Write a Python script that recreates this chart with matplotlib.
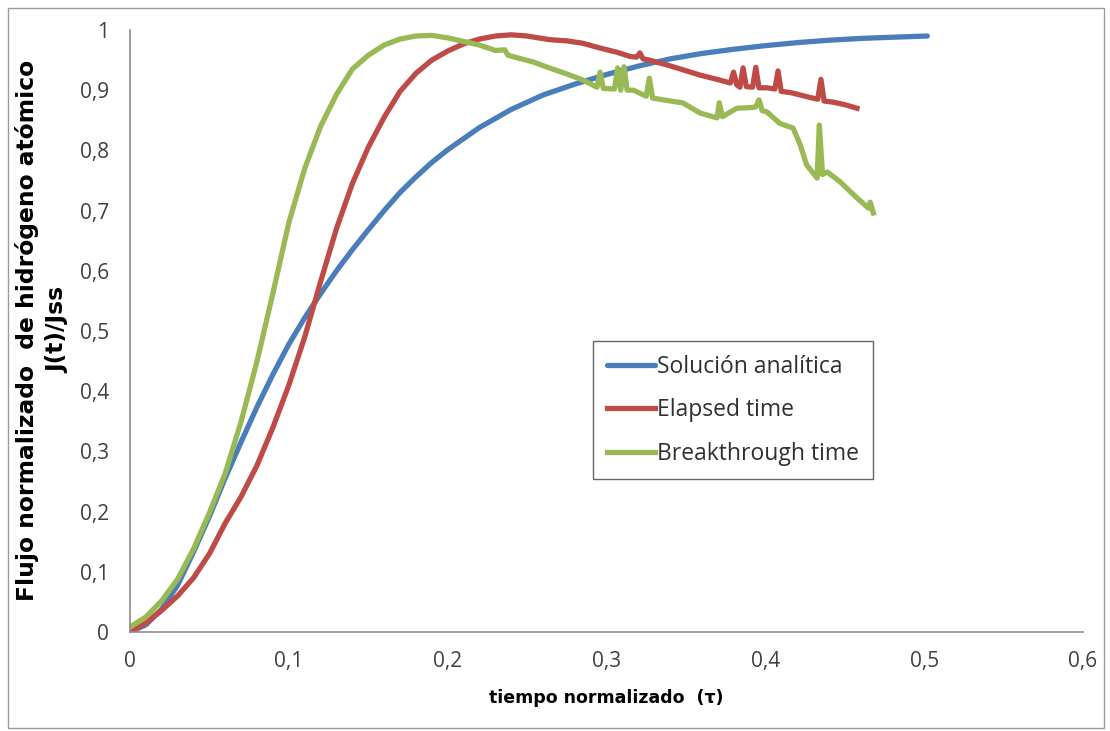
import matplotlib.pyplot as plt
from matplotlib.patches import Rectangle

# Solución analítica
x_sol = [0.0, 0.01, 0.02, 0.03, 0.04, 0.05, 0.06, 0.07, 0.08, 0.09, 0.10, 0.11,
         0.12, 0.13, 0.14, 0.15, 0.16, 0.17, 0.18, 0.19, 0.20, 0.22, 0.24, 0.26,
         0.28, 0.30, 0.32, 0.34, 0.36, 0.38, 0.40, 0.42, 0.44, 0.46, 0.48, 0.502]
y_sol = [0.0, 0.012, 0.038, 0.078, 0.133, 0.192, 0.256, 0.316, 0.374, 0.428,
         0.478, 0.522, 0.562, 0.600, 0.635, 0.668, 0.700, 0.730, 0.756, 0.780,
         0.801, 0.838, 0.868, 0.892, 0.910, 0.926, 0.940, 0.952, 0.961, 0.968,
         0.974, 0.979, 0.983, 0.986, 0.988, 0.990]

# Elapsed time
x_el = [0.0, 0.01, 0.02, 0.03, 0.04, 0.05, 0.06, 0.07, 0.08, 0.09, 0.10, 0.11,
        0.12, 0.13, 0.14, 0.15, 0.16, 0.17, 0.18, 0.19, 0.20, 0.21, 0.22, 0.23,
        0.24, 0.25, 0.264, 0.275, 0.285, 0.296, 0.3066, 0.315, 0.319, 0.321,
        0.323, 0.327, 0.338, 0.348, 0.359, 0.3696, 0.378, 0.380, 0.382, 0.384,
        0.386, 0.388, 0.392, 0.394, 0.396, 0.401, 0.406, 0.408, 0.410, 0.416,
        0.422, 0.428, 0.433, 0.435, 0.437, 0.443, 0.450, 0.4577]
y_el = [0.0, 0.015, 0.036, 0.060, 0.090, 0.130, 0.181, 0.225, 0.277, 0.340,
        0.410, 0.490, 0.582, 0.670, 0.745, 0.805, 0.855, 0.898, 0.928, 0.950,
        0.965, 0.977, 0.985, 0.990, 0.992, 0.990, 0.984, 0.982, 0.978, 0.970,
        0.963, 0.956, 0.955, 0.962, 0.952, 0.950, 0.942, 0.934, 0.925, 0.918,
        0.912, 0.930, 0.909, 0.905, 0.937, 0.906, 0.905, 0.938, 0.904, 0.904,
        0.902, 0.932, 0.898, 0.896, 0.892, 0.888, 0.885, 0.918, 0.882, 0.880,
        0.876, 0.870]

# Breakthrough time
x_br = [0.0, 0.01, 0.02, 0.03, 0.04, 0.05, 0.06, 0.07, 0.08, 0.09, 0.10, 0.11,
        0.12, 0.13, 0.14, 0.15, 0.16, 0.17, 0.18, 0.19, 0.20, 0.21, 0.22, 0.23,
        0.236, 0.238, 0.245, 0.2537, 0.264, 0.275, 0.285, 0.294, 0.296, 0.298,
        0.305, 0.307, 0.309, 0.311, 0.313, 0.317, 0.325, 0.327, 0.329, 0.338,
        0.348, 0.359, 0.3696, 0.371, 0.373, 0.382, 0.390, 0.394, 0.396, 0.398,
        0.401, 0.409, 0.4175, 0.422, 0.426, 0.4326, 0.434, 0.436, 0.439, 0.447,
        0.4577, 0.465, 0.466, 0.468]
y_br = [0.008, 0.025, 0.052, 0.088, 0.138, 0.198, 0.264, 0.350, 0.450, 0.563,
        0.680, 0.770, 0.840, 0.893, 0.935, 0.958, 0.975, 0.985, 0.990, 0.991,
        0.987, 0.981, 0.975, 0.966, 0.967, 0.958, 0.953, 0.947, 0.937, 0.927,
        0.917, 0.905, 0.930, 0.903, 0.902, 0.937, 0.900, 0.939, 0.900, 0.900,
        0.890, 0.920, 0.887, 0.883, 0.879, 0.862, 0.854, 0.879, 0.856, 0.870,
        0.871, 0.872, 0.884, 0.866, 0.864, 0.845, 0.837, 0.809, 0.776, 0.754,
        0.842, 0.760, 0.764, 0.748, 0.721, 0.704, 0.714, 0.696]

x_ticks = [0, 0.1, 0.2, 0.3, 0.4, 0.5, 0.6]
x_labels = ['0', '0,1', '0,2', '0,3', '0,4', '0,5', '0,6']
y_ticks = [0, 0.1, 0.2, 0.3, 0.4, 0.5, 0.6, 0.7, 0.8, 0.9, 1.0]
y_labels = ['0', '0,1', '0,2', '0,3', '0,4', '0,5', '0,6', '0,7', '0,8', '0,9', '1']

fig = plt.figure(figsize=(11.1, 7.31), dpi=100)
fig.patches.append(Rectangle((8 / 1110, 3 / 731), 1096 / 1110, 720 / 731,
                             transform=fig.transFigure, fill=False,
                             edgecolor='#9a9a9a', linewidth=1))
ax = fig.add_axes([130 / 1110, 1 - 632 / 731, 953 / 1110, 602 / 731])

lw = 3.8
ax.plot(x_sol, y_sol, color='#4a7ebb', lw=lw, label='Solución analítica',
        solid_capstyle='round')
ax.plot(x_el, y_el, color='#be4b48', lw=lw, label='Elapsed time')
ax.plot(x_br, y_br, color='#98b954', lw=lw, label='Breakthrough time')

ax.set_xlim(0, 0.6)
ax.set_ylim(0, 1)
ax.set_xticks(x_ticks)
ax.set_xticklabels(x_labels)
ax.set_yticks(y_ticks)
ax.set_yticklabels(y_labels)
ax.tick_params(length=0, labelsize=15, colors='#404040')
ax.tick_params(axis='y', pad=15)
ax.tick_params(axis='x', pad=14)
for t in ax.get_xticklabels() + ax.get_yticklabels():
    t.set_family('Open Sans')

for s in ['top', 'right']:
    ax.spines[s].set_visible(False)
for s in ['left', 'bottom']:
    ax.spines[s].set_color('#8c8c8c')
    ax.spines[s].set_linewidth(1.2)

ax.set_xlabel('tiempo normalizado  (τ)', fontsize=12.5, fontweight='bold',
              labelpad=12)
fig.text(27 / 1110, 1 - 330 / 731, 'Flujo normalizado  de hidrógeno atómico',
         rotation=90, ha='center', va='center', fontsize=16.8, fontweight='bold')
fig.text(58 / 1110, 1 - 330 / 731, 'J(t)/Jss', rotation=90, ha='center',
         va='center', fontsize=16.8, fontweight='bold')

leg = ax.legend(loc='upper left', bbox_to_anchor=(463 / 953, (632 - 341) / 602),
                borderaxespad=0, frameon=True, fancybox=False, handlelength=2.1,
                handletextpad=0.1, labelspacing=0.85, borderpad=0.6,
                prop={'family': 'Open Sans', 'size': 16.5})
leg.get_frame().set_edgecolor('#404040')
leg.get_frame().set_linewidth(1.0)
for t in leg.get_texts():
    t.set_color('#303030')

fig.savefig('out.png', dpi=100)
